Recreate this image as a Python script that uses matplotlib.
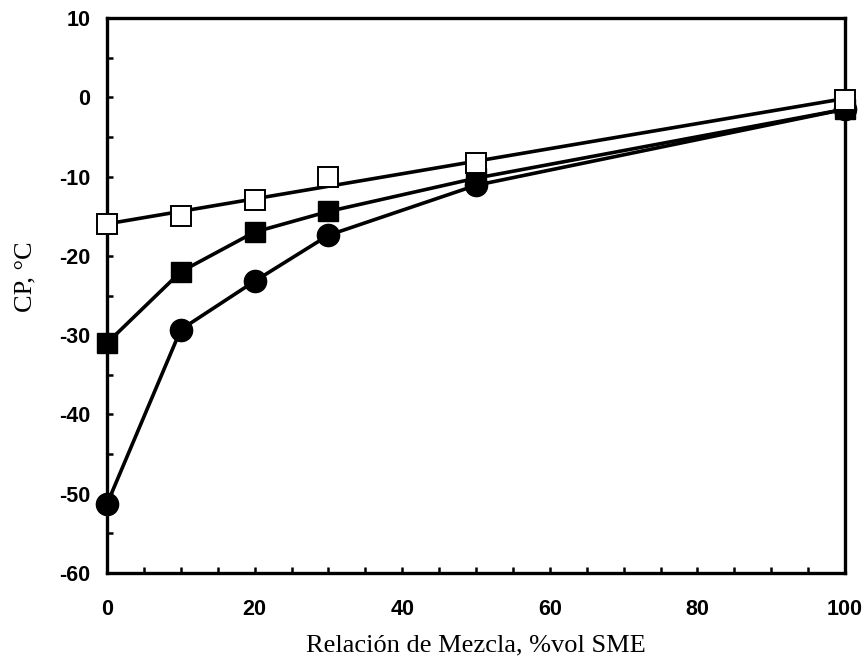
import numpy as np
import matplotlib
matplotlib.use("Agg")
import matplotlib.pyplot as plt
from matplotlib.ticker import MultipleLocator

plt.rcParams['axes.unicode_minus'] = False

x = [0, 10, 20, 30, 50, 100]
open_sq = [-16, -15, -13, -10, -8.3, -0.3]
filled_sq = [-31, -22, -17, -14.4, -10.2, -1.5]
circles = [-51.3, -29.3, -23.2, -17.4, -11.1, -1.5]

fig = plt.figure(figsize=(8.67, 6.61), dpi=100)
ax = fig.add_axes([107/867, 88/661, 738/867, 555/661])

# linear trend for the open-square series (fit from its data)
coef = np.polyfit(x, open_sq, 1)
xf = np.array([x[0], x[-1]])
ax.plot(xf, np.polyval(coef, xf), color='black', lw=2.6, zorder=2, clip_on=False)
ax.plot(x, open_sq, ls='none', marker='s', ms=14.5, mfc='white', mec='black', mew=1.4,
        zorder=4, clip_on=False)
ax.plot(x, filled_sq, color='black', lw=2.6, marker='s', ms=15, mfc='black', mec='black',
        zorder=3, clip_on=False)
ax.plot(x, circles, color='black', lw=2.6, marker='o', ms=16, mfc='black', mec='black',
        zorder=3, clip_on=False)

ax.set_xlim(0, 100)
ax.set_ylim(-60, 10)
ax.set_xticks([0, 20, 40, 60, 80, 100])
ax.set_yticks(list(range(-60, 11, 10)))
ax.xaxis.set_minor_locator(MultipleLocator(5))
ax.yaxis.set_minor_locator(MultipleLocator(5))
for s in ax.spines.values():
    s.set_linewidth(2.4)
ax.tick_params(which='both', direction='in', length=4, width=1.8, top=False, right=False)
ax.tick_params(axis='x', which='major', pad=19)
ax.tick_params(axis='y', which='major', pad=12)
for lab in ax.get_xticklabels() + ax.get_yticklabels():
    lab.set_fontfamily('Liberation Sans')
    lab.set_fontweight('bold')
    lab.set_fontsize(15.5)

ax.set_xlabel('Relación de Mezcla, %vol SME', fontfamily='Liberation Serif', fontsize=19, labelpad=10)
yl = ax.set_ylabel('CP, °C', fontfamily='Liberation Serif', fontsize=19)
yl.set_rotation_mode('default')
yl.set_ha('center')
yl.set_va('center')
ax.yaxis.set_label_coords(-0.111, 0.533)

fig.savefig('out.png', dpi=100)
